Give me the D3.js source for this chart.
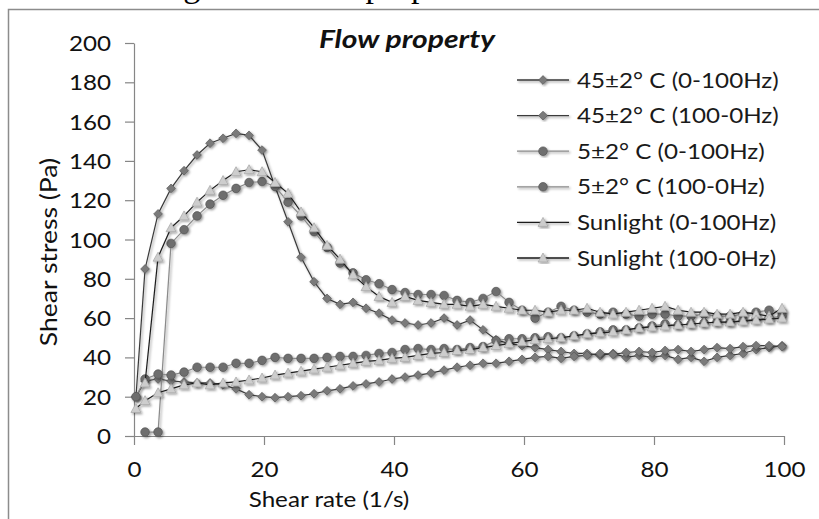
<!DOCTYPE html>
<html><head><meta charset="utf-8">
<script src="https://cdn.jsdelivr.net/npm/d3@7"></script>
<style>body{margin:0;background:#fff} svg{display:block}</style>
</head><body><svg id="c" width="819" height="519"></svg>
<script>
// ---- data ----
const shearRate = [0.3,1.7,3.7,5.7,7.7,9.7,11.7,13.7,15.7,17.7,19.7,21.7,23.7,25.7,27.7,29.7,31.7,33.7,35.7,37.7,39.7,41.7,43.7,45.7,47.7,49.7,51.7,53.7,55.7,57.7,59.7,61.7,63.7,65.7,67.7,69.7,71.7,73.7,75.7,77.7,79.7,81.7,83.7,85.7,87.7,89.7,91.7,93.7,95.7,97.7,99.7];
const s45Up = [20,85,113,126,135,143,149,151.5,154,153,145.5,127,109,91,78.5,70,67,68,65,62.5,59,57.5,56.5,57.5,60,56.5,59,54,49,47,46,45,44,43,42,42,41,42,40,41,40,41,39,40,38,40,41,42,44,45,46];
const s45Down = [20,28,29,28,27.5,27,27,26,24,21,20,19.5,20,20.5,21.5,23,24,25.5,26.5,27.5,29,30,31,32,33.5,35,36,37,37,38,39,40,40.5,39.5,40.5,41,42,41.5,42.5,43,42.5,43.5,44,43,44,45,44.5,45.5,46,46,45.5];
const s5Up = [null,2,2,98,105,112,118,122.5,126,129,129.5,127,119,112,104,96,88,83,79.5,77.5,74.5,73,72,72,71.5,69,68,70,73.5,68,64,60,63,66,64,63,62,63,62,61,62,62,61,61,62,61,61,62,63,64,63];
const s5Down = [20,29,31.5,31,32.5,35,35,35,37,37,38.5,40,39.5,39.5,39.5,40,40.5,40.5,41,42,42.5,44,44.5,44,44.5,44,45,45.5,48.5,49.5,49.5,50,50.5,50,51,52,53,54,54,55,56,57,56.5,57,57.5,58,58,59,59.5,60,61];
const sSunUp = [null,27,91,106,112,119,125,130,134.5,135.5,134.5,129,123.5,114,106,97,90,82,76,71,68,71,69,68,67,67,66,67,66,65,64,64,63,64,64,65,63,62,63,64,65,66,64,63,63,62,62,63,62,61,65];
const sSunDown = [14,18,22,24,26,27,26,27,27.5,28.5,29.5,31,32,33,34,35,36,37,38,38.5,39.5,40,41,42,42.5,43.5,44,45,46,47,48,49,49.5,50,51,52,52.5,53,54,55,55.5,56,56.5,57,57.5,58,58,58.5,59,59.5,60];
const seriesNames = ["45±2° C (0-100Hz)","45±2° C (100-0Hz)","5±2° C (0-100Hz)","5±2° C (100-0Hz)","Sunlight (0-100Hz)","Sunlight (100-0Hz)"];
const xTicks = [0,20,40,60,80,100];
const yTicks = [0,20,40,60,80,100,120,140,160,180,200];
const chartTitle = "Flow property";
const xTitle = "Shear rate (1/s)";
const yTitle = "Shear stress (Pa)";
const captionText = "Figure 5: Flow properties";

// ---- drawing ----
const svg = d3.select("#c");
const FONT = "Lato, 'Open Sans', sans-serif";
const SX = 1.18;

const defs = svg.append("defs");
defs.append("filter").attr("id","sh").attr("x","-20%").attr("y","-20%").attr("width","140%").attr("height","140%")
  .append("feDropShadow").attr("dx",1.4).attr("dy",1.4).attr("stdDeviation",1.1)
  .attr("flood-color","#000").attr("flood-opacity",0.4);

svg.append("rect").attr("width",819).attr("height",519).attr("fill","#fff");
// cut-off caption above the frame (only its descenders show, as in the reference)
svg.append("text").attr("x",155).attr("y",-3).attr("font-family","'Liberation Serif', serif")
  .attr("font-size",34).attr("fill","#000").text(captionText);
// frame
svg.append("path").attr("d","M8.5,519 V9.5 H819").attr("fill","none").attr("stroke","#8c8c8c").attr("stroke-width",1.5);

const x = d3.scaleLinear().domain([0,100]).range([134,784]);
const y = d3.scaleLinear().domain([0,200]).range([436,43]);

// axes
const gy = svg.append("g").attr("transform",`translate(${x(0)},0)`)
  .call(d3.axisLeft(y).tickValues(yTicks).tickSize(9).tickSizeOuter(0).tickFormat(d3.format("d")));
const gx = svg.append("g").attr("transform",`translate(0,${y(0)})`)
  .call(d3.axisBottom(x).tickValues(xTicks).tickSize(9).tickSizeOuter(0).tickFormat(d3.format("d")));
[gx,gy].forEach(g=>{
  g.select(".domain").attr("stroke","#868686").attr("stroke-width",1.2);
  g.selectAll(".tick line").attr("stroke","#868686").attr("stroke-width",1.2);
  g.selectAll("text").attr("font-family",FONT).attr("font-size",20.5).attr("fill","#111");
});
gy.selectAll("text").attr("x",null).attr("dy",null).attr("text-anchor","end")
  .attr("transform",`translate(-23,7.5) scale(${SX},1)`);
gx.selectAll("text").attr("y",null).attr("dy",null).attr("text-anchor","middle")
  .attr("transform",`translate(0,41) scale(${SX},1)`);

function label(str, tx, ty, size, opts={}) {
  return svg.append("text")
    .attr("transform",`translate(${tx},${ty})${opts.rot?` rotate(${opts.rot})`:""} scale(${SX},1)`)
    .attr("text-anchor",opts.anchor||"start")
    .attr("font-family",FONT).attr("font-size",size)
    .attr("font-weight",opts.weight||"normal").attr("font-style",opts.style||"normal")
    .attr("fill",opts.fill||"#111").text(str);
}
label(chartTitle, 407, 48, 25.5, {anchor:"middle", weight:"bold", style:"italic"});
label(xTitle, 329, 507, 20.5, {anchor:"middle"});
label(yTitle, 57, 252, 22.5, {anchor:"middle", rot:-90});

// series
const seriesValues = [s45Up, s45Down, s5Up, s5Down, sSunUp, sSunDown];
const markerKind = ["diamond","diamond","circle","circle","triangle","triangle"];
const lineColor = ["#3a3a3a","#3a3a3a","#8a8a8a","#8a8a8a","#1c1c1c","#1c1c1c"];
const markerStyle = {
  diamond: {path:"M0,-4.4L4.4,0L0,4.4L-4.4,0Z", fill:"#7a7a7a", stroke:"#5a5a5a"},
  circle: {path:"M4.3,0A4.3,4.3 0 1,1 -4.3,0A4.3,4.3 0 1,1 4.3,0Z", fill:"#6e6e6e", stroke:"#555"},
  triangle: {path:"M0,-5L5,4L-5,4Z", fill:"#cdcdcd", stroke:"#a5a5a5"}
};
const line = d3.line().defined(d=>d[1]!=null).x(d=>x(d[0])).y(d=>y(d[1]));

seriesValues.forEach((vals,i)=>{
  const pts = shearRate.map((r,j)=>[r,vals[j]]);
  const g = svg.append("g").attr("filter","url(#sh)");
  g.append("path").attr("d",line(pts)).attr("fill","none").attr("stroke",lineColor[i]).attr("stroke-width",1.2);
  const ms = markerStyle[markerKind[i]];
  g.selectAll("path.m").data(pts.filter(d=>d[1]!=null)).join("path").attr("class","m")
    .attr("d",ms.path).attr("transform",d=>`translate(${x(d[0])},${y(d[1])})`)
    .attr("fill",ms.fill).attr("stroke",ms.stroke).attr("stroke-width",0.7);
});

// legend
seriesNames.forEach((name,i)=>{
  const ly = 80 + 35.6*i;
  const g = svg.append("g").attr("filter","url(#sh)");
  g.append("line").attr("x1",517).attr("x2",569).attr("y1",ly).attr("y2",ly)
    .attr("stroke",lineColor[i]).attr("stroke-width",1.3);
  const ms = markerStyle[markerKind[i]];
  g.append("path").attr("d",ms.path).attr("transform",`translate(543,${ly})`)
    .attr("fill",ms.fill).attr("stroke",ms.stroke).attr("stroke-width",0.7);
  label(name, 577, ly+7.5, 20.5, {fill:"#1a1a1a"});
});
</script></body></html>
